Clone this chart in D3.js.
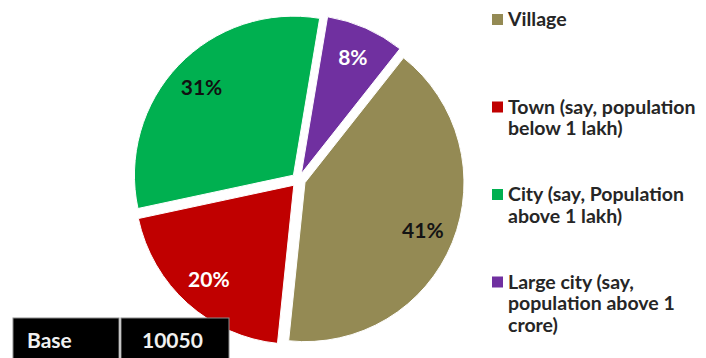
<!DOCTYPE html>
<html>
<head>
<meta charset="utf-8">
<script src="https://cdn.jsdelivr.net/npm/d3@7/dist/d3.min.js"></script>
<style>
  html, body { margin: 0; padding: 0; background: #fff; }
  svg { display: block; }
  text { font-family: Lato, "Open Sans", sans-serif; font-weight: 700; }
</style>
</head>
<body>
<svg id="chart" width="706" height="358"></svg>
<script>
// Share of respondents by place of residence
const categories = ["Village", "Town", "City", "Large city"];
const values = [41, 20, 31, 8];
const legendLines = [
  ["Village"],
  ["Town (say, population", "below 1 lakh)"],
  ["City (say, Population", "above 1 lakh)"],
  ["Large city (say,", "population above 1", "crore)"]
];
const colors = ["#948A54", "#C00000", "#00B050", "#7030A0"];
const labelColors = ["#141414", "#ffffff", "#111111", "#ffffff"];
const baseLabel = "Base";
const baseValue = "10050";

const svg = d3.select("#chart");

// Pie geometry
const cx = 298.5, cy = 180, R = 159, explode = 7;
const start = 38.3 * Math.PI / 180;

const pie = d3.pie().sort(null).value(d => d)
  .startAngle(start).endAngle(start + 2 * Math.PI);
const arcs = pie(values);

const arc = d3.arc().innerRadius(0).outerRadius(R);
const labelArc = d3.arc().innerRadius(R * 0.8).outerRadius(R * 0.8);

const pieG = svg.append("g").attr("transform", `translate(${cx},${cy})`);

const slice = pieG.selectAll("g.slice").data(arcs).enter().append("g")
  .attr("class", "slice")
  .attr("transform", d => {
    const a = (d.startAngle + d.endAngle) / 2;
    return `translate(${explode * Math.sin(a)},${-explode * Math.cos(a)})`;
  });

slice.append("path")
  .attr("d", arc)
  .attr("fill", (d, i) => colors[i])
  .attr("stroke", "#ffffff")
  .attr("stroke-width", 1);

slice.append("text")
  .attr("transform", d => `translate(${labelArc.centroid(d)})`)
  .attr("text-anchor", "middle")
  .attr("dy", "0.36em")
  .attr("font-size", 21)
  .attr("fill", (d, i) => labelColors[i])
  .text(d => d.data + "%");

// Legend
const legend = svg.append("g");
const lx = 492, tx = 508, lineH = 21.5;
const firstBase = 26, step = 87.5;

categories.forEach((c, i) => {
  const y0 = firstBase + i * step;
  legend.append("rect")
    .attr("x", lx).attr("y", y0 - 12)
    .attr("width", 11).attr("height", 11)
    .attr("fill", colors[i]);
  const t = legend.append("text")
    .attr("x", tx).attr("y", y0)
    .attr("font-size", 19.5)
    .attr("fill", "#262626");
  legendLines[i].forEach((ln, j) => {
    t.append("tspan").attr("x", tx).attr("y", y0 + j * lineH).text(ln);
  });
});

// Base count box
const box = svg.append("g");
box.append("rect").attr("x", 13).attr("y", 318).attr("width", 106).attr("height", 45)
  .attr("fill", "#000").attr("stroke", "#8c8c8c").attr("stroke-width", 1);
box.append("rect").attr("x", 121).attr("y", 318).attr("width", 108).attr("height", 45)
  .attr("fill", "#000").attr("stroke", "#8c8c8c").attr("stroke-width", 1);
box.append("text").attr("x", 27).attr("y", 348).attr("font-size", 21)
  .attr("fill", "#f0f0f0").text(baseLabel);
box.append("text").attr("x", 142).attr("y", 348).attr("font-size", 21)
  .attr("fill", "#f0f0f0").text(baseValue);
</script>
</body>
</html>
